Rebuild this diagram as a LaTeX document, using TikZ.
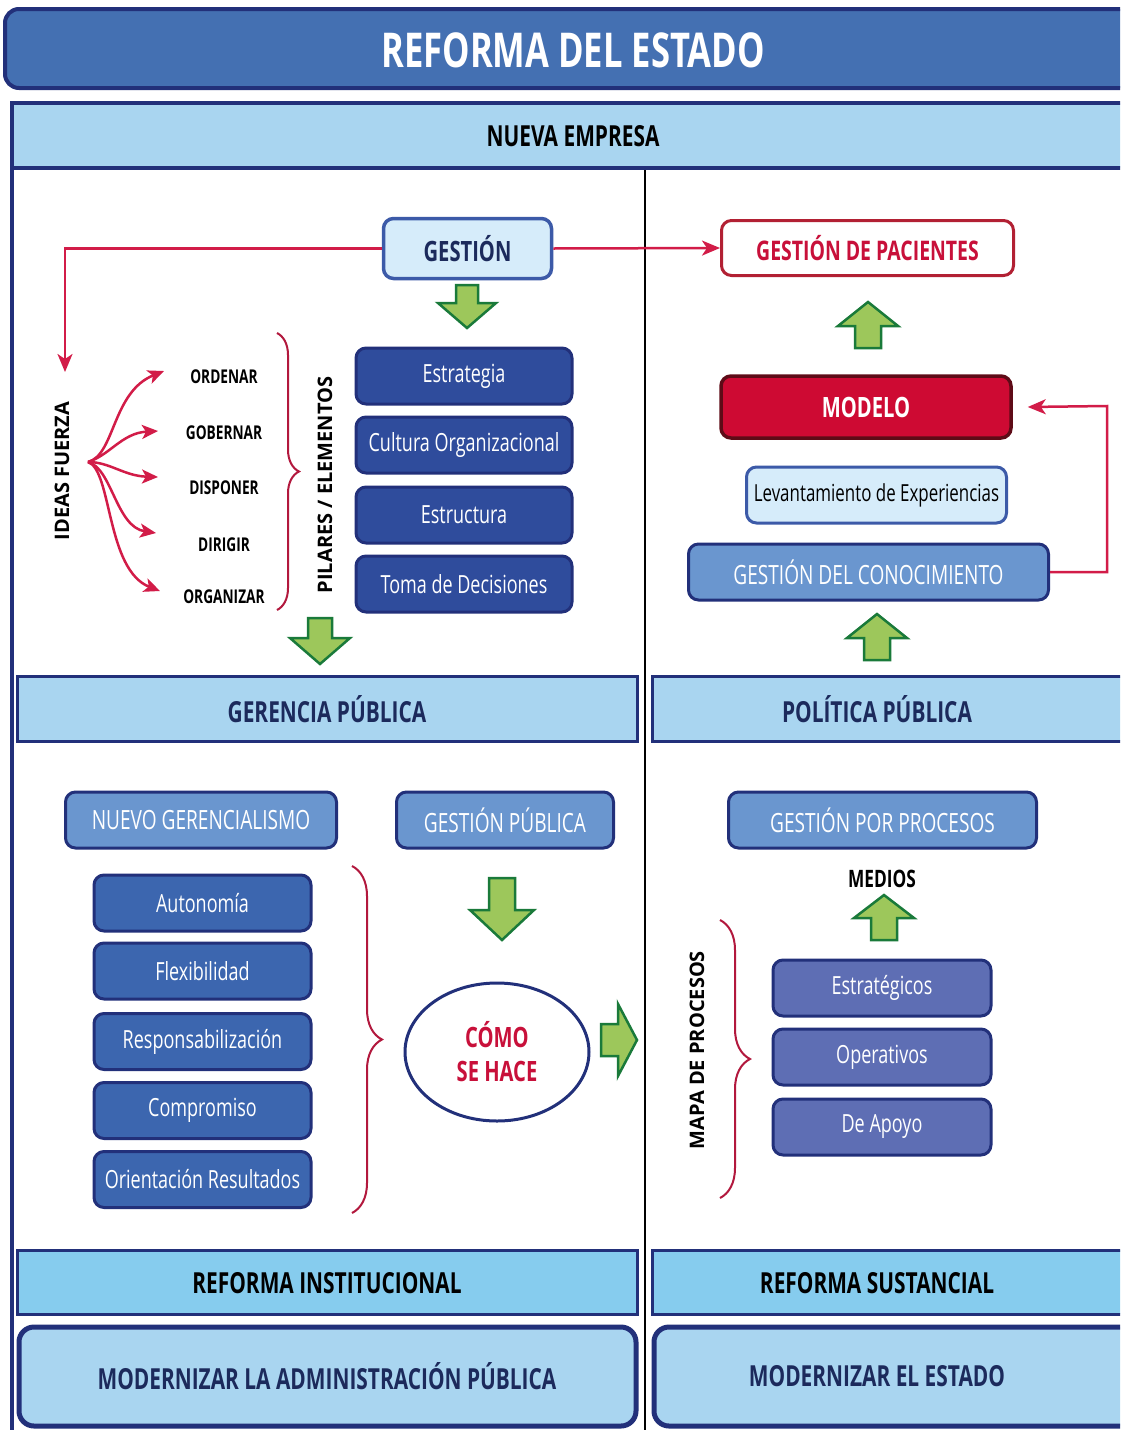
\documentclass[tikz,border=0pt]{standalone}
\usepackage{fontspec}
\setmainfont{Open Sans}[FakeStretch=0.72]
\newfontfamily\widefont{Open Sans}
\usetikzlibrary{arrows.meta,decorations.pathreplacing,shapes.geometric,calc}
\definecolor{navy}{HTML}{22307A}
\definecolor{navytext}{HTML}{1C2A5C}
\definecolor{titleblue}{HTML}{4470B2}
\definecolor{lightband}{HTML}{A9D5F0}
\definecolor{skyband}{HTML}{86CCEE}
\definecolor{palefill}{HTML}{D6ECFA}
\definecolor{boxblue}{HTML}{3C5AA8}
\definecolor{pillarfill}{HTML}{2F4C9C}
\definecolor{midblue}{HTML}{6A96CF}
\definecolor{attrfill}{HTML}{3C66AF}
\definecolor{procfill}{HTML}{5E6EB4}
\definecolor{crimson}{HTML}{C8103A}
\definecolor{modelofill}{HTML}{CE0A33}
\definecolor{maroon}{HTML}{5E0B17}
\definecolor{darkred}{HTML}{B22033}
\definecolor{redline}{HTML}{D21C48}
\definecolor{gfill}{HTML}{9DC75B}
\definecolor{gborder}{HTML}{1A7A3A}
\newcommand\myfs[1]{\fontsize{#1}{#1}\selectfont}
\newcommand\garrow[7]{%
  \begin{scope}[shift={(#1,#2)},rotate=#3]
    \draw[garrst] (0,-#6) -- (#4-#5,-#6) -- (#4-#5,-#7) -- (#4,0) -- (#4-#5,#7) -- (#4-#5,#6) -- (0,#6) -- cycle;
  \end{scope}}
\begin{document}
\begin{tikzpicture}[x=1pt,y=-1pt,
  rbox/.style={rounded corners=10pt, line width=3pt, inner sep=0pt},
  lightbox/.style={rbox, draw=boxblue, fill=palefill},
  pillar/.style={rbox, draw=navy, fill=pillarfill, text=white, font=\myfs{25}, minimum width=216pt, minimum height=56pt},
  midbox/.style={rbox, draw=navy, fill=midblue, text=white, font=\myfs{26.5}, minimum height=56pt},
  attr/.style={rbox, draw=navy, fill=attrfill, text=white, font=\myfs{25}, minimum width=217pt, minimum height=56pt},
  proc/.style={rbox, draw=navy, fill=procfill, text=white, font=\myfs{25}, minimum width=218pt, minimum height=56pt},
  bandst/.style={draw=navy, line width=3pt},
  bandtxt/.style={font=\bfseries\myfs{29}},
  bigbox/.style={rounded corners=15pt, draw=navy, line width=5pt, fill=lightband},
  verb/.style={font=\bfseries\myfs{19}},
  rot/.style={rotate=90, font=\widefont\bfseries\myfs{20}},
  redln/.style={draw=redline, line width=2.5pt},
  redarr/.style={redln, -{Stealth[length=18pt,width=15pt,inset=5pt]}},
  curvarr/.style={draw=redline, line width=2.5pt, -{Stealth[length=16pt,width=14pt,inset=4pt]}},
  garrst/.style={fill=gfill, draw=gborder, line width=2.5pt, line join=miter},
  bracest/.style={draw=redline!85!black, line width=2pt, decorate, decoration={brace, amplitude=#1}},
]
\useasboundingbox (0,0) rectangle (1120,1430);
\clip (0,0) rectangle (1120,1430);
\fill[white] (0,0) rectangle (1120,1430);

% title
\draw[rounded corners=14pt, fill=titleblue, draw=navy, line width=4pt] (5,9) rectangle (1140,88);
\node[text=white, font=\bfseries\myfs{48}] (title) at (573,50) {REFORMA DEL ESTADO};

% outer frame and top band
\draw[navy, line width=4pt] (12,103) -- (12,1440);
\draw[navy, line width=4pt, fill=lightband] (12,103) rectangle (1140,168);
\node[bandtxt] (ne) at (573,136) {NUEVA EMPRESA};
\draw[black, line width=2pt] (645,170) -- (645,1440);

% ---------- upper left ----------
\node[lightbox, line width=3.5pt, minimum width=168pt, minimum height=60pt, text=navytext, font=\bfseries\myfs{28}] (gest) at (467.5,248.5) {GESTIÓN};
\node[rbox, draw=darkred, fill=white, minimum width=292pt, minimum height=55pt, text=crimson, font=\bfseries\myfs{27}] (gdp) at (867.5,248) {GESTIÓN DE PACIENTES};
\coordinate (ifz) at (65,372);
\draw[redarr] (gest.west) -| (ifz);
\draw[redarr] (gest.east) -- (gdp.west);

\garrow{467}{285}{-90}{43}{25}{11}{29}

\node[pillar] (p1) at (464,376) {Estrategia};
\node[pillar] (p2) at (464,445) {Cultura Organizacional};
\node[pillar] (p3) at (464,515) {Estructura};
\node[pillar] (p4) at (464,584) {Toma de Decisiones};

\node[rot] (pil) at (325,485) {PILARES / ELEMENTOS};
\draw[bracest=22pt] (277,333) -- (277,610);

\node[verb] (v1) at (224,377) {ORDENAR};
\node[verb] (v2) at (224,433) {GOBERNAR};
\node[verb] (v3) at (224,488) {DISPONER};
\node[verb] (v4) at (224,545) {DIRIGIR};
\node[verb] (v5) at (224,597) {ORGANIZAR};
\node[rot] (idf) at (62,471) {IDEAS FUERZA};

\coordinate (ifo) at (88,462);
\coordinate (t1) at (164,371);
\coordinate (t2) at (158,431);
\coordinate (t3) at (158,477);
\coordinate (t4) at (156,533);
\coordinate (t5) at (160,591);
\draw[curvarr] (ifo) .. controls (115,455) and (112,392) .. (t1);
\draw[curvarr] (ifo) .. controls (110,455) and (122,433) .. (t2);
\draw[curvarr] (ifo) .. controls (110,462) and (124,476) .. (t3);
\draw[curvarr] (ifo) .. controls (112,468) and (116,527) .. (t4);
\draw[curvarr] (ifo) .. controls (112,470) and (106,570) .. (t5);

\garrow{320}{618}{-90}{46}{26}{12}{30}

% ---------- upper right ----------
\garrow{868}{348}{90}{46}{24}{13}{30}
\node[rbox, draw=maroon, fill=modelofill, line width=3.5pt, minimum width=290pt, minimum height=62pt, text=white, font=\bfseries\myfs{28}] (modelo) at (866,407) {MODELO};
\node[lightbox, minimum width=260pt, minimum height=56pt, font=\myfs{23.5}] (lev) at (876.5,495) {Levantamiento de Experiencias};
\node[midbox, minimum width=360pt] (gdc) at (868.5,572) {GESTIÓN DEL CONOCIMIENTO};
\coordinate (fb) at (1107,406);
\draw[redarr] (gdc.east) -| (fb) -- ([xshift=15pt]modelo.east);
\garrow{877}{660}{90}{46}{24}{13}{30}

% ---------- middle bands ----------
\draw[bandst, fill=lightband] (17,676) rectangle (637,741);
\node[bandtxt, text=navytext] (ger) at (327,709) {GERENCIA PÚBLICA};
\draw[bandst, fill=lightband] (652,676) rectangle (1140,741);
\node[bandtxt, text=navytext] (pol) at (877,709) {POLÍTICA PÚBLICA};

% ---------- lower left ----------
\node[midbox, minimum width=271pt] (ng) at (201,820) {NUEVO GERENCIALISMO};
\node[midbox, minimum width=217pt] (gp) at (505,820) {GESTIÓN PÚBLICA};
\node[attr] (a1) at (202.5,903) {Autonomía};
\node[attr] (a2) at (202.5,971) {Flexibilidad};
\node[attr] (a3) at (202.5,1041.5) {Responsabilización};
\node[attr] (a4) at (202.5,1110.5) {Compromiso};
\node[attr] (a5) at (202.5,1179.5) {Orientación Resultados};
\draw[bracest=30pt] (352,866) -- (352,1213);
\garrow{502}{878}{-90}{62}{30}{13}{32}
\node[ellipse, draw=navy, line width=3pt, fill=white, minimum width=184pt, minimum height=138pt, inner sep=0pt, text=crimson, font=\bfseries\myfs{28}, align=center] (como) at (497,1052) {\myfs{28}CÓMO\\[6pt]SE HACE};
\garrow{601}{1040}{0}{36}{19}{16}{36}

% ---------- lower right ----------
\node[midbox, minimum width=308pt] (gpp) at (882.5,820) {GESTIÓN POR PROCESOS};
\node[font=\bfseries\myfs{24}] (medios) at (882,879) {MEDIOS};
\garrow{884}{940}{90}{45}{23}{13}{30}
\node[proc] (e1) at (882,988) {Estratégicos};
\node[proc] (e2) at (882,1057) {Operativos};
\node[proc] (e3) at (882,1127) {De Apoyo};
\draw[bracest=30pt] (720,920) -- (720,1198);
\node[rot] (mapa) at (697,1050) {MAPA DE PROCESOS};

% ---------- bottom ----------
\draw[bandst, fill=skyband] (17,1250) rectangle (637,1314);
\node[bandtxt] (ri) at (327,1283) {REFORMA INSTITUCIONAL};
\draw[bandst, fill=skyband] (652,1250) rectangle (1140,1314);
\node[bandtxt] (rs) at (877,1283) {REFORMA SUSTANCIAL};
\draw[bigbox] (19,1327) rectangle (636,1426);
\node[bandtxt, font=\bfseries\myfs{29}, text=navytext] (mad) at (327,1376) {MODERNIZAR LA ADMINISTRACIÓN PÚBLICA};
\draw[bigbox] (654,1327) rectangle (1150,1426);
\node[bandtxt, font=\bfseries\myfs{29}, text=navytext] (mes) at (877,1376) {MODERNIZAR EL ESTADO};
\end{tikzpicture}
\end{document}
